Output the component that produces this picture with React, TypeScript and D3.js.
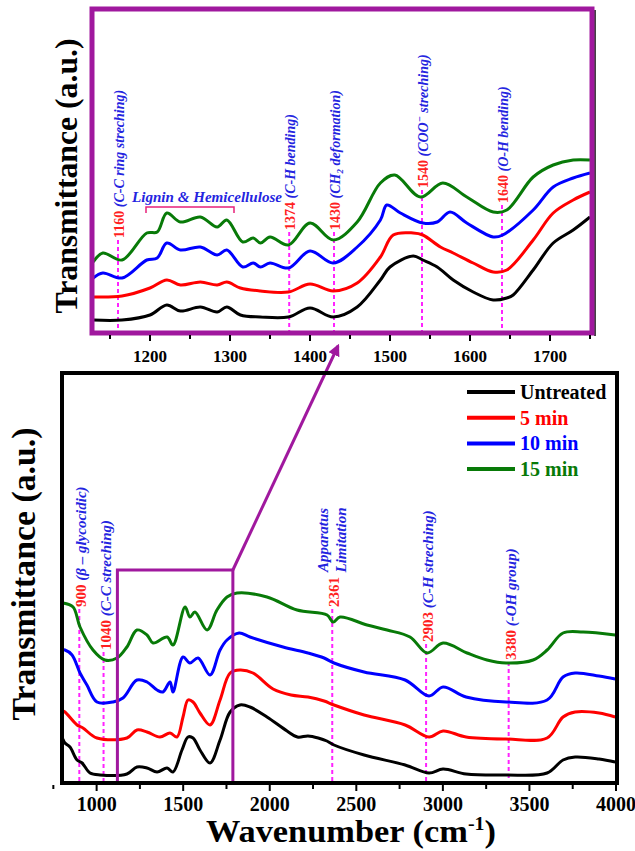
import React from 'react';
import * as d3 from 'd3';

const FONT = '"Liberation Serif", "Times New Roman", serif';

const SERIES = ['Untreated', '5 min', '10 min', '15 min'];
const COLORS = ['#000000', '#ff0000', '#0000ff', '#087a08'];

// full spectra, [wavenumber cm-1, transmittance a.u. (stacked)]
const MAIN_UNTREATED = [
    [805, 0.44], [817, 0.40], [846, 0.36], [887, 0.23], [916, 0.20], [962, 0.10], [1020, 0.08],
    [1175, 0.09], [1233, 0.16], [1291, 0.15], [1349, 0.11], [1407, 0.15], [1441, 0.11],
    [1493, 0.33], [1528, 0.46], [1557, 0.45], [1597, 0.33], [1655, 0.20], [1713, 0.43],
    [1771, 0.71], [1828, 0.78], [1886, 0.76], [1984, 0.66], [2100, 0.52], [2160, 0.46],
    [2221, 0.47], [2280, 0.45], [2330, 0.42], [2371, 0.38], [2545, 0.28], [2782, 0.18], [2920, 0.10],
    [3001, 0.14], [3134, 0.09], [3365, 0.08], [3602, 0.10], [3694, 0.23], [3764, 0.26],
    [3902, 0.24], [3995, 0.21]
];
const MAIN_5MIN = [
    [805, 0.72], [817, 0.71], [887, 0.58], [921, 0.55], [1002, 0.45], [1175, 0.45],
    [1233, 0.53], [1291, 0.51], [1366, 0.46], [1424, 0.50], [1464, 0.46], [1499, 0.66],
    [1528, 0.83], [1557, 0.81], [1597, 0.70], [1655, 0.58], [1713, 0.83], [1771, 1.10],
    [1828, 1.13], [1903, 1.10], [2019, 0.94], [2123, 0.88], [2221, 0.86], [2314, 0.82],
    [2371, 0.78], [2545, 0.68], [2782, 0.58], [2920, 0.46], [3001, 0.52], [3134, 0.46],
    [3365, 0.44], [3602, 0.45], [3694, 0.66], [3764, 0.71], [3902, 0.70], [3995, 0.66]
];
const MAIN_10MIN = [
    [805, 1.33], [817, 1.33], [858, 1.28], [904, 1.10], [944, 0.98], [1002, 0.81], [1095, 0.81],
    [1152, 0.85], [1233, 1.03], [1291, 1.01], [1349, 0.93], [1383, 0.91], [1424, 1.01],
    [1441, 0.91], [1499, 1.26], [1539, 1.20], [1586, 1.25], [1655, 1.08], [1713, 1.33],
    [1753, 1.43], [1823, 1.50], [1886, 1.46], [2077, 1.36], [2221, 1.30], [2314, 1.25],
    [2371, 1.20], [2545, 1.11], [2782, 1.03], [2920, 0.87], [3001, 0.96], [3134, 0.86],
    [3365, 0.81], [3602, 0.83], [3694, 1.06], [3764, 1.10], [3902, 1.07], [3995, 1.04]
];
const MAIN_15MIN = [
    [806, 1.80], [864, 1.76], [904, 1.56], [979, 1.33], [1048, 1.23], [1118, 1.25],
    [1175, 1.36], [1233, 1.53], [1291, 1.48], [1326, 1.40], [1407, 1.46], [1441, 1.38],
    [1511, 1.76], [1539, 1.66], [1568, 1.71], [1638, 1.53], [1695, 1.73], [1753, 1.86],
    [1811, 1.90], [1984, 1.86], [2158, 1.73], [2331, 1.68], [2366, 1.61], [2406, 1.66],
    [2562, 1.58], [2678, 1.53], [2810, 1.46], [2909, 1.30], [3001, 1.40], [3140, 1.30],
    [3255, 1.23], [3365, 1.20], [3521, 1.23], [3602, 1.33], [3694, 1.50], [3810, 1.51],
    [3995, 1.48]
];

// zoomed region 1130-1750 cm-1
const ZOOM_UNTREATED = [
    [1129, 0.13], [1165, 0.13], [1200, 0.18], [1221, 0.28], [1238, 0.22], [1263, 0.26],
    [1284, 0.21], [1296, 0.26], [1313, 0.18], [1338, 0.16], [1373, 0.16], [1400, 0.25],
    [1429, 0.16], [1459, 0.26], [1488, 0.53], [1500, 0.66], [1529, 0.77], [1541, 0.73],
    [1559, 0.66], [1579, 0.53], [1604, 0.41], [1629, 0.33], [1646, 0.35], [1654, 0.38],
    [1679, 0.63], [1704, 0.90], [1729, 1.03], [1750, 1.16]
];
const ZOOM_5MIN = [
    [1129, 0.36], [1165, 0.37], [1200, 0.45], [1221, 0.53], [1238, 0.48], [1263, 0.51],
    [1284, 0.48], [1296, 0.51], [1313, 0.45], [1338, 0.42], [1373, 0.41], [1400, 0.49],
    [1429, 0.42], [1459, 0.50], [1488, 0.76], [1504, 0.98], [1529, 1.00], [1541, 0.98],
    [1563, 0.86], [1579, 0.80], [1604, 0.70], [1629, 0.61], [1646, 0.63], [1679, 0.93],
    [1704, 1.20], [1729, 1.33], [1750, 1.41]
];
const ZOOM_10MIN = [
    [1129, 0.55], [1141, 0.60], [1165, 0.55], [1196, 0.73], [1209, 0.75], [1221, 0.90],
    [1238, 0.83], [1263, 0.86], [1284, 0.78], [1296, 0.83], [1316, 0.66], [1329, 0.70],
    [1338, 0.66], [1350, 0.70], [1373, 0.65], [1400, 0.82], [1429, 0.70], [1459, 0.86],
    [1488, 1.13], [1496, 1.28], [1513, 1.20], [1541, 1.10], [1559, 1.11], [1575, 1.21],
    [1596, 1.10], [1629, 0.96], [1641, 0.98], [1679, 1.23], [1704, 1.46], [1729, 1.55],
    [1750, 1.60]
];
const ZOOM_15MIN = [
    [1129, 0.71], [1141, 0.80], [1165, 0.73], [1196, 1.00], [1209, 1.01], [1221, 1.20],
    [1238, 1.11], [1263, 1.16], [1284, 1.06], [1296, 1.13], [1316, 0.91], [1329, 0.95],
    [1338, 0.90], [1350, 0.96], [1373, 0.88], [1400, 1.10], [1429, 0.93], [1459, 1.11],
    [1488, 1.50], [1506, 1.58], [1538, 1.36], [1566, 1.50], [1596, 1.36], [1629, 1.21],
    [1646, 1.23], [1679, 1.56], [1704, 1.68], [1729, 1.73], [1750, 1.73]
];

const MAIN_DATA = [MAIN_UNTREATED, MAIN_5MIN, MAIN_10MIN, MAIN_15MIN];
const ZOOM_DATA = [ZOOM_UNTREATED, ZOOM_5MIN, ZOOM_10MIN, ZOOM_15MIN];

const MAIN_TICKS = [1000, 1500, 2000, 2500, 3000, 3500, 4000];
const ZOOM_TICKS = [1200, 1300, 1400, 1500, 1600, 1700];

const MAIN_BANDS = [900, 1040, 2361, 2903, 3380];
const ZOOM_BANDS = [1160, 1374, 1430, 1540, 1640];
const ZOOM_WINDOW = [1120, 1787];
const LIGNIN_RANGE = [1195, 1305];

// where the rotated band labels start (a.u. level on each panel)
const MAIN_LABEL_LEVEL = [1.76, 1.33, 1.76, 1.41, 1.23];
const ZOOM_LABEL_LEVEL = [0.95, 1.03, 1.03, 1.45, 1.30];

const RED = '#ff1f1f';
const BLUE = '#2424e0';
const PURPLE = '#a0189e';
const MAGENTA = '#ff22ff';

const xMain = d3.scaleLinear().domain([800, 4000]).range([62, 616]);
const yMain = d3.scaleLinear().domain([0, 4.1]).range([783, 373]);
const xZoom = d3.scaleLinear().domain([1127.5, 1752.5]).range([92, 592]);
const yZoom = d3.scaleLinear().domain([0, 3.24]).range([333, 9]);

const mainLine = d3.line().x(d => xMain(d[0])).y(d => yMain(d[1])).curve(d3.curveCatmullRom.alpha(0.5));
const zoomLine = d3.line().x(d => xZoom(d[0])).y(d => yZoom(d[1])).curve(d3.curveCatmullRom.alpha(0.5));

function BandLabel({ x, y, num, size, children }) {
    return (
        <text transform={`translate(${x},${y}) rotate(-90)`} fontFamily={FONT} fontSize={size} fontWeight="bold">
            <tspan fill={RED}>{num}</tspan>
            <tspan fill={BLUE} fontStyle="italic"> {children}</tspan>
        </text>
    );
}

export default function App() {
    const mainDesc = [
        <>(β – glycocidic)</>,
        <>(C-C streching)</>,
        null,
        <>(C-H streching)</>,
        <>(-OH group)</>
    ];
    const zoomDesc = [
        <>(C-C ring streching)</>,
        <>(C-H bending)</>,
        <>(CH<tspan fontSize="9" dy="3">2</tspan><tspan dy="-3"> deformation)</tspan></>,
        <>(COO<tspan fontSize="10" dy="-5">−</tspan><tspan dy="5"> streching)</tspan></>,
        <>(O-H bending)</>
    ];

    const boxX0 = xMain(ZOOM_WINDOW[0]);
    const boxX1 = xMain(ZOOM_WINDOW[1]);
    const boxTop = yMain(2.13);

    return (
        <svg width={635} height={851} style={{ position: 'absolute', left: 0, top: 0, background: '#fff' }}>
            <defs>
                <clipPath id="zoomClip"><rect x={92} y={9} width={500} height={324} /></clipPath>
                <clipPath id="mainClip"><rect x={62} y={373} width={555} height={410} /></clipPath>
                <marker id="arrow" viewBox="0 0 10 10" refX="8" refY="5" markerWidth="4" markerHeight="4" orient="auto">
                    <path d="M0,0 L10,5 L0,10 z" fill={PURPLE} />
                </marker>
            </defs>

            {/* ---------- zoom panel ---------- */}
            {ZOOM_BANDS.map((b, i) => (
                <line key={'zl' + b} x1={xZoom(b)} x2={xZoom(b)} y1={yZoom(ZOOM_LABEL_LEVEL[i]) + 2} y2={333}
                    stroke={MAGENTA} strokeWidth={2} strokeDasharray="4 3" />
            ))}
            <g clipPath="url(#zoomClip)">
                {ZOOM_DATA.map((d, i) => (
                    <path key={'z' + i} d={zoomLine(d)} fill="none" stroke={COLORS[i]} strokeWidth={3} />
                ))}
            </g>
            {ZOOM_BANDS.map((b, i) => (
                <BandLabel key={'zt' + b} x={xZoom(b) + 6} y={yZoom(ZOOM_LABEL_LEVEL[i])} num={b} size={14}>
                    {zoomDesc[i]}
                </BandLabel>
            ))}
            <text x={xZoom(LIGNIN_RANGE[0]) - 14} y={202} fontFamily={FONT} fontSize={14} fontWeight="bold"
                fontStyle="italic" fill={BLUE} textLength={150} lengthAdjust="spacingAndGlyphs">Lignin &amp; Hemicellulose</text>
            <path d={`M${xZoom(LIGNIN_RANGE[0])},213 V207 H${xZoom(LIGNIN_RANGE[1])} V213`} fill="none"
                stroke="#e8207a" strokeWidth={1.5} />

            <line x1={595} x2={595} y1={10} y2={336} stroke="#444" strokeWidth={2} />
            <rect x={92} y={9} width={500} height={324} fill="none" stroke={PURPLE} strokeWidth={5} />
            {ZOOM_TICKS.map(t => (
                <g key={'zt' + t}>
                    <line x1={xZoom(t)} x2={xZoom(t)} y1={335} y2={341} stroke="#000" strokeWidth={2} />
                    <text x={xZoom(t)} y={362} textAnchor="middle" fontFamily={FONT} fontSize={17} fontWeight="bold">{t}</text>
                </g>
            ))}
            {ZOOM_TICKS.map(t => (
                <line key={'zm' + t} x1={xZoom(t - 50)} x2={xZoom(t - 50)} y1={335} y2={339} stroke="#000" strokeWidth={2} />
            ))}
            <line x1={xZoom(1750)} x2={xZoom(1750)} y1={335} y2={339} stroke="#000" strokeWidth={2} />
            <text transform="translate(77,176) rotate(-90)" textAnchor="middle" fontFamily={FONT} fontSize={31}
                fontWeight="bold" textLength={275} lengthAdjust="spacingAndGlyphs">Transmittance (a.u.)</text>

            {/* ---------- full spectrum ---------- */}
            {MAIN_BANDS.map((b, i) => (
                <line key={'ml' + b} x1={xMain(b)} x2={xMain(b)} y1={yMain(MAIN_LABEL_LEVEL[i]) + 2} y2={783}
                    stroke={MAGENTA} strokeWidth={2} strokeDasharray="4 3" />
            ))}
            <g clipPath="url(#mainClip)">
                {MAIN_DATA.map((d, i) => (
                    <path key={'m' + i} d={mainLine(d)} fill="none" stroke={COLORS[i]} strokeWidth={3} />
                ))}
            </g>
            {MAIN_BANDS.map((b, i) => (
                <BandLabel key={'mt' + b} x={xMain(b) + 7} y={yMain(MAIN_LABEL_LEVEL[i])} num={b} size={15}>
                    {mainDesc[i]}
                </BandLabel>
            ))}
            <text transform={`translate(${xMain(2361) - 4},540) rotate(-90)`} textAnchor="middle" fontFamily={FONT}
                fontSize={15} fontWeight="bold" fontStyle="italic" fill={BLUE}>Apparatus</text>
            <text transform={`translate(${xMain(2361) + 14},540) rotate(-90)`} textAnchor="middle" fontFamily={FONT}
                fontSize={15} fontWeight="bold" fontStyle="italic" fill={BLUE}>Limitation</text>

            <rect x={boxX0} y={boxTop} width={boxX1 - boxX0} height={783 - boxTop} fill="none" stroke={PURPLE} strokeWidth={3} />
            <line x1={boxX1} y1={boxTop} x2={xZoom(1435)} y2={346} stroke={PURPLE} strokeWidth={3} markerEnd="url(#arrow)" />

            <rect x={62} y={373} width={555} height={410} fill="none" stroke="#000" strokeWidth={4} />
            {MAIN_TICKS.map(t => (
                <g key={'mt' + t}>
                    <line x1={xMain(t)} x2={xMain(t)} y1={785} y2={791} stroke="#000" strokeWidth={2} />
                    <text x={xMain(t)} y={811} textAnchor="middle" fontFamily={FONT} fontSize={20} fontWeight="bold">{t}</text>
                </g>
            ))}
            {MAIN_TICKS.map(t => (
                <line key={'mm' + t} x1={xMain(t - 250)} x2={xMain(t - 250)} y1={785} y2={789} stroke="#000" strokeWidth={2} />
            ))}
            <text x={206} y={842} fontFamily={FONT} fontSize={31} fontWeight="bold" textLength={290} lengthAdjust="spacingAndGlyphs">
                Wavenumber (cm<tspan fontSize={18} dy={-12}>-1</tspan><tspan dy={12}>)</tspan>
            </text>
            <text transform="translate(35,574) rotate(-90)" textAnchor="middle" fontFamily={FONT} fontSize={33}
                fontWeight="bold" textLength={293} lengthAdjust="spacingAndGlyphs">Transmittance (a.u.)</text>

            {/* legend */}
            {SERIES.map((s, i) => (
                <g key={s}>
                    <line x1={467} x2={515} y1={392 + i * 25.7} y2={392 + i * 25.7} stroke={COLORS[i]} strokeWidth={4} />
                    <text x={520} y={399 + i * 25.7} fontFamily={FONT} fontSize={20} fontWeight="bold" fill={COLORS[i]}>{s}</text>
                </g>
            ))}
        </svg>
    );
}
